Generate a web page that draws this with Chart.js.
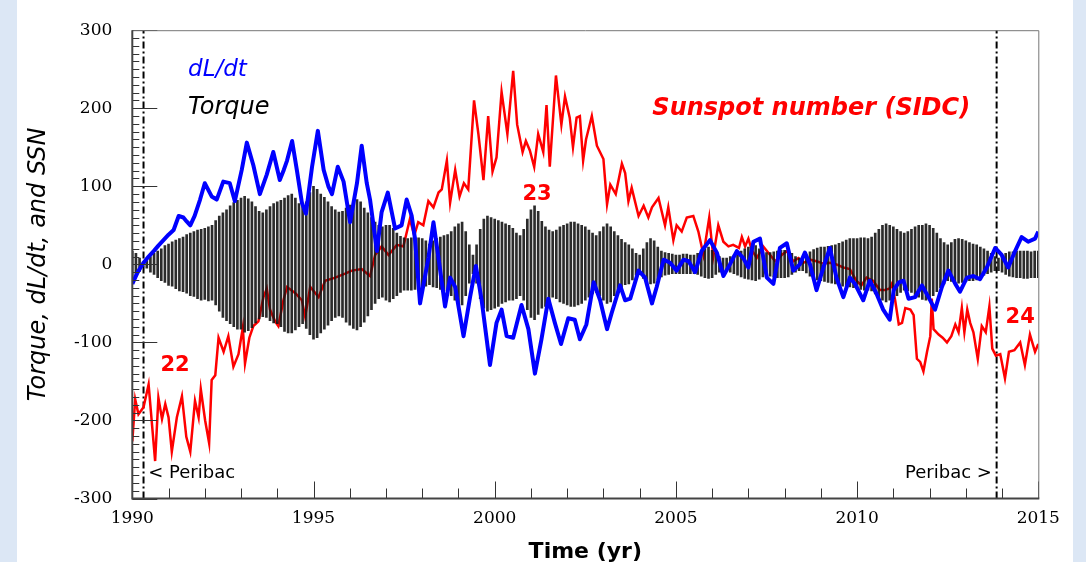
<!DOCTYPE html>
<html><head><meta charset="utf-8">
<script src="https://cdn.jsdelivr.net/npm/chart.js@4/dist/chart.umd.min.js"></script>
<style>
html,body{margin:0;padding:0;background:#dce7f5;overflow:hidden;}
#wrap{position:absolute;left:0;top:0;width:1086px;height:562px;}
#panel{position:absolute;left:17px;top:0;width:1056px;height:562px;background:#fff;}
canvas{position:absolute;left:0;top:0;}
</style></head>
<body><div id="wrap"><div id="panel"></div><canvas id="c" width="1086" height="562"></canvas></div>
<script>
// ---- dL/dt (blue) ----
const dldtYears = [1990.00,1990.15,1990.31,1990.45,1990.59,1990.72,1990.86,1991.00,1991.14,1991.28,1991.41,1991.50,1991.60,1991.72,1991.87,1992.00,1992.10,1992.19,1992.33,1992.51,1992.69,1992.83,1993.02,1993.16,1993.34,1993.52,1993.71,1993.89,1994.07,1994.18,1994.27,1994.41,1994.54,1994.68,1994.79,1994.96,1995.12,1995.28,1995.41,1995.51,1995.67,1995.83,1996.01,1996.20,1996.33,1996.47,1996.56,1996.75,1996.88,1997.05,1997.25,1997.43,1997.57,1997.71,1997.80,1997.94,1998.17,1998.31,1998.45,1998.63,1998.77,1998.91,1999.14,1999.32,1999.48,1999.64,1999.87,2000.05,2000.19,2000.33,2000.51,2000.74,2000.93,2001.11,2001.29,2001.48,2001.66,2001.83,2002.03,2002.21,2002.35,2002.53,2002.73,2002.91,2003.10,2003.23,2003.46,2003.60,2003.74,2003.97,2004.15,2004.34,2004.47,2004.66,2004.84,2005.02,2005.21,2005.35,2005.53,2005.71,2005.94,2006.13,2006.31,2006.49,2006.68,2006.86,2007.00,2007.14,2007.32,2007.51,2007.69,2007.87,2008.06,2008.24,2008.42,2008.56,2008.70,2008.88,2009.07,2009.25,2009.43,2009.62,2009.80,2009.94,2010.17,2010.35,2010.53,2010.72,2010.90,2011.01,2011.15,2011.28,2011.42,2011.60,2011.79,2011.97,2012.15,2012.34,2012.52,2012.71,2012.84,2013.03,2013.21,2013.39,2013.58,2013.81,2013.99,2014.17,2014.36,2014.54,2014.72,2014.91,2015.00];
const dldtValues = [-25,-10,2,10,17,24,31,38,44,62,60,55,50,62,83,104,95,87,83,106,104,81,121,156,127,90,115,144,108,121,133,158,121,79,65,125,171,121,100,90,125,106,54,104,152,104,83,17,67,92,46,50,83,62,33,-50,8,54,8,-54,-17,-29,-92,-42,-2,-46,-129,-75,-58,-92,-94,-52,-83,-140,-96,-44,-75,-102,-69,-71,-96,-77,-23,-46,-83,-62,-27,-46,-44,-8,-17,-50,-29,6,2,-8,6,4,-10,17,31,15,-15,0,17,8,-4,29,33,-17,-25,21,27,-8,0,15,0,-33,-4,21,-17,-42,-17,-25,-46,-21,-37,-58,-71,-33,-23,-21,-44,-42,-27,-42,-58,-29,-8,-25,-35,-17,-15,-19,-4,21,12,-4,17,35,29,33,42];

// ---- Sunspot number, SIDC (red) ----
const ssnYears = [1990.00,1990.08,1990.17,1990.31,1990.45,1990.63,1990.72,1990.82,1990.91,1991.00,1991.09,1991.23,1991.37,1991.49,1991.60,1991.73,1991.83,1991.89,1992.01,1992.12,1992.19,1992.29,1992.38,1992.52,1992.65,1992.79,1992.93,1993.05,1993.11,1993.23,1993.34,1993.48,1993.62,1993.71,1993.80,1993.94,1994.03,1994.17,1994.27,1994.50,1994.68,1994.77,1994.91,1995.14,1995.32,1995.60,1995.87,1996.06,1996.33,1996.56,1996.70,1996.88,1997.07,1997.30,1997.48,1997.66,1997.78,1997.89,1998.03,1998.17,1998.31,1998.45,1998.54,1998.68,1998.77,1998.91,1999.03,1999.15,1999.27,1999.43,1999.55,1999.69,1999.82,1999.94,2000.05,2000.19,2000.35,2000.51,2000.62,2000.77,2000.86,2000.97,2001.09,2001.20,2001.34,2001.43,2001.52,2001.69,2001.84,2001.94,2002.07,2002.16,2002.26,2002.35,2002.44,2002.52,2002.68,2002.82,2003.00,2003.10,2003.19,2003.34,2003.51,2003.60,2003.69,2003.78,2003.97,2004.11,2004.24,2004.34,2004.52,2004.70,2004.79,2004.93,2005.02,2005.16,2005.30,2005.48,2005.62,2005.76,2005.92,2006.03,2006.17,2006.31,2006.45,2006.58,2006.74,2006.82,2006.91,2007.00,2007.09,2007.23,2007.41,2007.60,2007.74,2007.92,2008.06,2008.24,2008.38,2008.52,2008.70,2008.88,2009.07,2009.25,2009.43,2009.62,2009.80,2009.98,2010.12,2010.26,2010.44,2010.63,2010.76,2010.90,2010.96,2011.05,2011.15,2011.24,2011.33,2011.47,2011.56,2011.65,2011.74,2011.83,2011.93,2012.02,2012.06,2012.11,2012.25,2012.36,2012.48,2012.60,2012.71,2012.80,2012.89,2012.96,2013.04,2013.12,2013.21,2013.33,2013.44,2013.55,2013.65,2013.73,2013.83,2013.95,2014.08,2014.19,2014.34,2014.50,2014.63,2014.77,2014.91,2015.00];
const ssnValues = [-227,-173,-192,-183,-154,-252,-171,-198,-179,-196,-240,-196,-169,-221,-240,-175,-196,-160,-200,-229,-148,-142,-94,-112,-92,-131,-115,-81,-127,-94,-79,-73,-42,-31,-58,-73,-79,-46,-29,-37,-46,-67,-29,-42,-21,-17,-12,-8,-6,-15,12,23,12,25,23,58,37,54,50,81,73,92,96,133,79,121,87,104,96,210,167,108,190,119,137,221,167,248,179,144,158,146,125,167,144,204,125,242,179,215,188,150,188,190,133,160,190,152,135,77,102,90,129,117,81,98,62,75,60,73,85,50,73,31,50,42,60,62,42,12,60,10,50,29,23,25,21,35,23,33,19,8,23,12,4,12,17,4,8,2,6,4,1,2,0,-4,-6,-21,-27,-17,-21,-33,-33,-31,-25,-46,-77,-75,-56,-58,-65,-121,-125,-137,-112,-92,-44,-83,-90,-94,-100,-92,-77,-87,-56,-87,-58,-75,-87,-121,-79,-87,-54,-108,-117,-115,-146,-112,-110,-100,-129,-90,-112,-102];

// ---- Torque (black): oscillation envelope read every 0.1 yr from 1990.0 ----
const torqueStart = 1990.0, torqueStep = 0.1;
const torqueHigh = [
17,14,8,3,6,10,14,17,20,24,
26,29,31,33,35,38,40,42,44,45,
46,48,50,56,62,66,70,75,79,82,
85,87,84,80,74,68,66,70,74,78,
80,82,85,88,90,85,78,75,80,92,
100,96,90,86,80,74,70,67,68,72,
76,80,83,80,72,66,60,54,50,48,
50,50,46,40,36,34,33,34,35,34,
33,30,26,30,33,35,37,38,42,48,
52,54,42,25,12,25,45,58,62,60,
58,56,54,52,50,46,40,37,45,58,
70,75,68,55,48,44,42,44,48,50,
52,54,54,52,50,48,44,40,37,42,
48,52,48,42,37,32,28,25,20,14,
12,20,28,33,30,22,17,15,14,13,
12,12,13,13,12,12,14,16,20,22,
18,14,10,8,8,10,12,14,17,20,
22,23,24,20,16,15,15,16,17,18,
18,17,14,10,8,8,12,16,19,21,
22,22,23,24,25,27,29,31,33,33,
33,34,34,33,35,40,45,50,52,50,
48,45,42,40,42,45,48,50,50,52,
50,46,40,33,28,25,28,32,33,32,
30,28,26,25,22,20,17,14,10,8,
10,14,16,16,17,17,17,17,16,17,
17];
const torqueLow = [
-17,-15,-9,-3,-5,-10,-13,-17,-21,-23,
-27,-28,-31,-34,-35,-37,-40,-41,-44,-46,
-45,-47,-46,-52,-60,-68,-72,-76,-80,-83,
-83,-87,-85,-81,-75,-70,-67,-68,-72,-75,
-76,-80,-86,-88,-88,-84,-80,-76,-82,-90,
-96,-94,-88,-83,-78,-72,-68,-66,-68,-74,
-78,-82,-84,-80,-74,-66,-58,-50,-44,-42,
-46,-48,-44,-40,-36,-33,-33,-33,-32,-32,
-30,-28,-26,-29,-30,-32,-34,-37,-40,-46,
-50,-52,-40,-24,-12,-24,-44,-56,-60,-58,
-56,-54,-50,-48,-46,-46,-44,-40,-46,-58,
-68,-71,-64,-56,-54,-48,-42,-44,-48,-50,
-52,-54,-54,-52,-50,-46,-42,-38,-36,-40,
-46,-50,-48,-40,-35,-30,-26,-25,-20,-14,
-12,-18,-24,-25,-24,-20,-16,-14,-13,-12,
-12,-12,-12,-12,-12,-12,-13,-15,-17,-18,
-17,-13,-10,-8,-8,-10,-12,-14,-16,-18,
-19,-20,-21,-19,-16,-15,-15,-16,-17,-17,
-17,-16,-13,-10,-8,-8,-11,-15,-18,-20,
-21,-22,-23,-24,-25,-26,-28,-29,-29,-30,
-31,-32,-33,-33,-34,-38,-42,-46,-48,-46,
-44,-40,-36,-33,-34,-36,-40,-42,-45,-46,
-44,-40,-35,-30,-25,-21,-22,-24,-24,-23,
-22,-21,-21,-20,-17,-14,-12,-10,-8,-8,
-10,-13,-15,-16,-17,-17,-18,-18,-17,-17,
-17];

// ---- Peribac epochs (dash-dot verticals) ----
const peribacYears = [1990.31, 2013.85];

// ---- axis ----
const xMin = 1990, xMax = 2015, xMajor = 5, xMinor = 1;
const yMin = -300, yMax = 300, yMajor = 100, yMinor = 10;

// ---- in-plot texts (data coordinates) ----
const notes = [
  {text:'dL/dt', x:1991.54, y:249, color:'#0000ff', font:'italic 23px "DejaVu Sans"', align:'left'},
  {text:'Torque', x:1991.54, y:201, color:'#000000', font:'italic 24px "DejaVu Sans"', align:'left'},
  {text:'Sunspot number (SIDC)', x:2004.35, y:199, color:'#ff0000', font:'italic bold 24px "DejaVu Sans"', align:'left'},
  {text:'23', x:2001.17, y:90, color:'#ff0000', font:'bold 21px "DejaVu Sans"', align:'center'},
  {text:'22', x:1991.18, y:-130, color:'#ff0000', font:'bold 21px "DejaVu Sans"', align:'center'},
  {text:'24', x:2014.5, y:-68, color:'#ff0000', font:'bold 21px "DejaVu Sans"', align:'center'},
  {text:'< Peribac', x:1990.44, y:-268, color:'#000000', font:'18px "DejaVu Sans"', align:'left'},
  {text:'Peribac >', x:2013.72, y:-268, color:'#000000', font:'18px "DejaVu Sans"', align:'right'}
];

const frameTicks = {
  id:'frameTicks',
  afterDatasetsDraw(chart){
    const {ctx, chartArea:a, scales:{x, y}} = chart;
    ctx.save();
    ctx.strokeStyle = '#333'; ctx.lineWidth = 1;
    ctx.beginPath();
    for (let v = yMin; v <= yMax; v += yMinor) {
      const py = Math.round(y.getPixelForValue(v)) + 0.5;
      const len = (v % yMajor === 0) ? 25 : 7;
      ctx.moveTo(a.left, py); ctx.lineTo(a.left + len, py);
    }
    for (let v = xMin; v <= xMax; v += xMinor) {
      const px = Math.round(x.getPixelForValue(v)) + 0.5;
      const len = (v % xMajor === 0) ? 17 : 10;
      ctx.moveTo(px, a.bottom); ctx.lineTo(px, a.bottom - len);
    }
    ctx.stroke();
    ctx.strokeStyle = '#777'; ctx.lineWidth = 1;
    ctx.beginPath();
    ctx.moveTo(a.left, a.top + 0.5); ctx.lineTo(a.right + 0.5, a.top + 0.5); ctx.lineTo(a.right + 0.5, a.bottom);
    ctx.stroke();
    ctx.strokeStyle = '#444'; ctx.lineWidth = 2;
    ctx.beginPath();
    ctx.moveTo(a.left, a.top); ctx.lineTo(a.left, a.bottom); ctx.lineTo(a.right + 1, a.bottom);
    ctx.stroke();
    ctx.textBaseline = 'middle';
    notes.forEach(n => {
      ctx.font = n.font; ctx.fillStyle = n.color; ctx.textAlign = n.align;
      ctx.fillText(n.text, x.getPixelForValue(n.x), y.getPixelForValue(n.y));
    });
    ctx.restore();
  }
};

const datasets = [
  {type:'line', label:'dL/dt', data: dldtYears.map((t,i)=>({x:t, y:dldtValues[i]})),
   borderColor:'#0000ff', borderWidth:4, pointRadius:0, tension:0, order:0, borderJoinStyle:'round'},
  {type:'bar', label:'Torque', data: torqueHigh.map((h,i)=>({x: torqueStart + i*torqueStep, y:[torqueLow[i], h]})),
   backgroundColor:'rgba(20,20,20,0.9)', borderWidth:0, barThickness:2, grouped:false, order:1},
  {type:'line', label:'SSN', data: ssnYears.map((t,i)=>({x:t, y:ssnValues[i]})),
   borderColor:'#ff0000', borderWidth:2.5, pointRadius:0, tension:0, order:2},
];
peribacYears.forEach(p => datasets.push({type:'line', label:'Peribac', data:[{x:p, y:yMin},{x:p, y:yMax}],
   borderColor:'#000', borderWidth:2, borderDash:[7,3,2,3], pointRadius:0, order:3}));

new Chart(document.getElementById('c'), {
  type:'line',
  data:{datasets},
  options:{
    responsive:false, animation:false, devicePixelRatio:1,
    layout:{padding:{left:0, top:16.3, right:47.7, bottom:0}},
    plugins:{legend:{display:false}, tooltip:{enabled:false}},
    scales:{
      x:{type:'linear', min:xMin, max:xMax, offset:false,
         grid:{display:false, drawTicks:false}, border:{display:false},
         ticks:{stepSize:xMajor, autoSkip:false, maxRotation:0, callback:v=>String(v),
                font:{family:'DejaVu Serif', size:17}, color:'#000', padding:10},
         title:{display:true, text:'Time (yr)', color:'#000',
                font:{family:'DejaVu Sans', weight:'bold', size:22, lineHeight:0.8}, padding:{top:0, bottom:1}},
         afterFit(s){ s.height = 63.5; }},
      y:{type:'linear', min:yMin, max:yMax,
         grid:{display:false, drawTicks:false}, border:{display:false},
         ticks:{stepSize:yMajor, callback:v=>String(v),
                font:{family:'DejaVu Serif', size:17}, color:'#000', padding:20},
         title:{display:true, text:'Torque, dL/dt, and SSN', color:'#000',
                font:{family:'DejaVu Sans', style:'italic', size:24, lineHeight:1.2}, padding:{top:24, bottom:0}},
         afterFit(s){ s.width = 132.3; }}
    }
  },
  plugins:[frameTicks]
});
</script></body></html>
